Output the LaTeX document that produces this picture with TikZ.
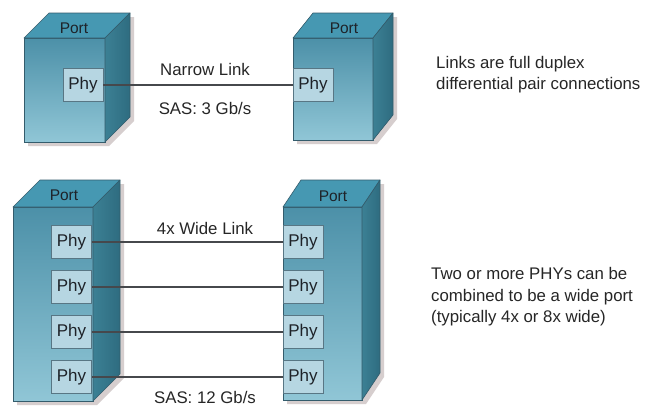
\documentclass[tikz,border=0pt]{standalone}
\usepackage{fontspec}
\setmainfont{Liberation Sans}
\definecolor{frontTop}{RGB}{76,144,168}
\definecolor{frontBot}{RGB}{144,198,214}
\definecolor{topFace}{RGB}{70,152,178}
\definecolor{sideL}{RGB}{60,128,148}
\definecolor{sideR}{RGB}{46,108,128}
\definecolor{edgeC}{RGB}{52,92,108}
\definecolor{phyFill}{RGB}{182,214,226}
\definecolor{phyEdge}{RGB}{88,118,132}
\definecolor{shadowC}{RGB}{214,206,206}
\definecolor{inkC}{RGB}{30,34,40}
\definecolor{linkC}{RGB}{70,72,76}
\tikzset{
  phybox/.style={draw=phyEdge, line width=0.8pt, fill=phyFill, minimum width=40pt,
    minimum height=33pt, inner sep=0pt, font=\fontsize{17}{19}\selectfont, text=inkC},
  portlabel/.style={font=\fontsize{15.5}{18}\selectfont, text=inkC, inner sep=0pt},
  linklabel/.style={font=\fontsize{16.8}{19}\selectfont, text=black!85, inner sep=0pt},
  notetext/.style={font=\fontsize{16.8}{21.5}\selectfont, text=black!85, align=left,
    anchor=west, inner sep=0pt},
  linkline/.style={draw=linkC, line width=1.3pt},
}
% #1,#2: top-left corner of the front face; #3 width; #4 height; #5,#6 depth offsets
\newcommand\portcube[6]{%
  \fill[shadowC] (#1+4,#2+#4+4) -- (#1+4,#2+4) -- (#1+#5+4,#2-#6+4) -- (#1+#3+#5+4,#2-#6+4)
    -- (#1+#3+#5+4,#2+#4-#6+4) -- (#1+#3+4,#2+#4+4) -- cycle;
  \shade[top color=frontTop, bottom color=frontBot, draw=edgeC, line width=0.6pt]
    (#1,#2) rectangle (#1+#3,#2+#4);
  \fill[topFace, draw=edgeC, line width=0.6pt, line join=round]
    (#1,#2) -- (#1+#5,#2-#6) -- (#1+#3+#5,#2-#6) -- (#1+#3,#2) -- cycle;
  \shade[left color=sideL, right color=sideR, draw=edgeC, line width=0.6pt, line join=round]
    (#1+#3,#2) -- (#1+#3+#5,#2-#6) -- (#1+#3+#5,#2+#4-#6) -- (#1+#3,#2+#4) -- cycle;
}
\begin{document}
\begin{tikzpicture}[x=1pt, y=-1pt]
\useasboundingbox (0,0) rectangle (656,410);
\fill[white] (0,0) rectangle (656,410);

% narrow port pair
\portcube{24}{38}{81}{104}{25}{25}
\portcube{293}{38}{80}{102}{20}{25}
\node[portlabel] (portA) at (74,28) {Port};
\node[portlabel] (portB) at (344,28) {Port};
\node[phybox] (pa) at (83,85) {Phy};
\node[phybox] (pb) at (313,85) {Phy};
\draw[linkline] (pa.east) -- (pb.west);
\node[linklabel] (narrow) at (205,69) {Narrow Link};
\node[linklabel] (sas3) at (205,108) {SAS: 3 Gb/s};

% wide port pair
\portcube{13}{207}{80}{194}{27}{27}
\portcube{283}{207}{79}{193}{18}{27}
\node[portlabel] (portC) at (64,195) {Port};
\node[portlabel] (portD) at (333,196) {Port};
\foreach \i/\yy in {1/242,2/287,3/332,4/377}{
  \node[phybox] (pc\i) at (71.5,\yy) {Phy};
  \node[phybox] (pd\i) at (303,\yy) {Phy};
  \draw[linkline] (pc\i.east) -- (pd\i.west);
}
\node[linklabel] (wide) at (205,228) {4x Wide Link};
\node[linklabel] (sas12) at (205,397) {SAS: 12 Gb/s};

% notes
\node[notetext] (note1) at (436,74.5) {Links are full duplex\\differential pair connections};
\node[notetext] (note2) at (431,297) {Two or more PHYs can be\\combined to be a wide port\\(typically 4x or 8x wide)};
\end{tikzpicture}
\end{document}
